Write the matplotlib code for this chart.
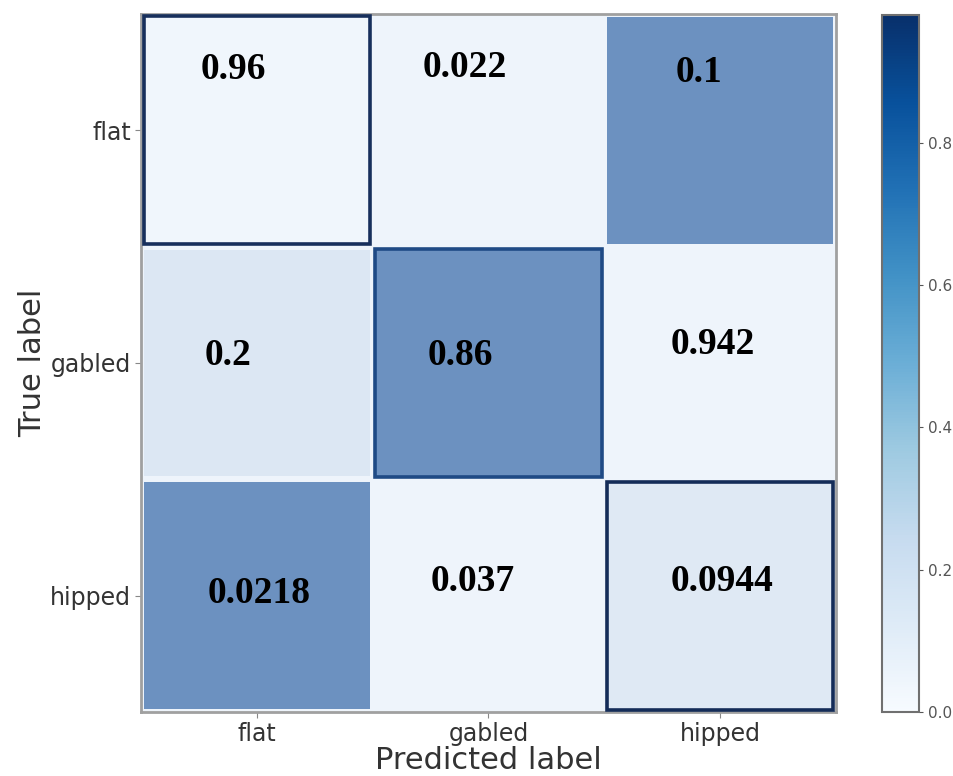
import numpy as np
import matplotlib
matplotlib.use("Agg")
import matplotlib.pyplot as plt
from matplotlib.colors import LinearSegmentedColormap, Normalize
from matplotlib.patches import Rectangle
import matplotlib.cm as cm

# ---------- data ----------
classes = ["flat", "gabled", "hipped"]

cell_text = [
    ["0.96", "0.022", "0.1"],
    ["0.2", "0.86", "0.942"],
    ["0.0218", "0.037", "0.0944"],
]

# fill shade of each cell (0 = white, 1 = full tone)
cell_shade = np.array([
    [0.02, 0.04, 1.00],
    [0.17, 1.00, 0.04],
    [1.00, 0.04, 0.15],
])

# text offsets inside each cell (in cell units)
text_dx = [[-0.10, -0.10, -0.09], [-0.125, -0.12, -0.03], [0.01, -0.07, 0.01]]
text_dy = [[-0.26, -0.27, -0.25], [-0.03, -0.03, -0.08], [-0.01, -0.06, -0.06]]

cbar_max = 0.98
cbar_ticks = [0.0, 0.2, 0.4, 0.6, 0.8]

# ---------- figure ----------
fig = plt.figure(figsize=(9.54, 7.76), dpi=100)
ax = fig.add_axes([0.148, 0.0825, 0.728, 0.8995])
cax = fig.add_axes([0.9245, 0.0825, 0.0388, 0.8982])

cell_cmap = LinearSegmentedColormap.from_list("cell", ["#f3f8fd", "#6c91c0"])
ax.pcolormesh(np.arange(4) - 0.5, np.arange(4) - 0.5, cell_shade,
              cmap=cell_cmap, vmin=0, vmax=1,
              edgecolor="#eef4fb", linewidth=3)
ax.set_xlim(-0.5, 2.5)
ax.set_ylim(2.5, -0.5)

# outline the diagonal cells
border_cols = ["#172f5c", "#1f4a85", "#142c58"]
for i in range(3):
    ax.add_patch(Rectangle((i - 0.49, i - 0.49), 0.98, 0.98, fill=False,
                           edgecolor=border_cols[i], linewidth=2.6, zorder=3))

for r in range(3):
    for c in range(3):
        ax.text(c + text_dx[r][c], r + text_dy[r][c], cell_text[r][c],
                ha="center", va="center", fontsize=27, fontweight="bold",
                family="Liberation Serif", color="black", zorder=4)

ax.set_xticks(range(3))
ax.set_yticks(range(3))
ax.set_xticklabels(classes, fontsize=17, color="#333333")
ax.set_yticklabels(classes, fontsize=17, color="#333333")
ax.tick_params(length=4, color="#888888")
ax.set_xlabel("Predicted label", fontsize=22, color="#333333", labelpad=0)
ax.set_ylabel("True label", fontsize=22, color="#333333", labelpad=2)
for s in ax.spines.values():
    s.set_color("#a0a0a0")
    s.set_linewidth(2)

sm = cm.ScalarMappable(norm=Normalize(0, cbar_max), cmap="Blues")
cb = fig.colorbar(sm, cax=cax, ticks=cbar_ticks)
cb.ax.tick_params(labelsize=11, colors="#555555", length=3)
cb.outline.set_edgecolor("#707070")
cb.outline.set_linewidth(1.5)

fig.savefig("out.png", dpi=100)
